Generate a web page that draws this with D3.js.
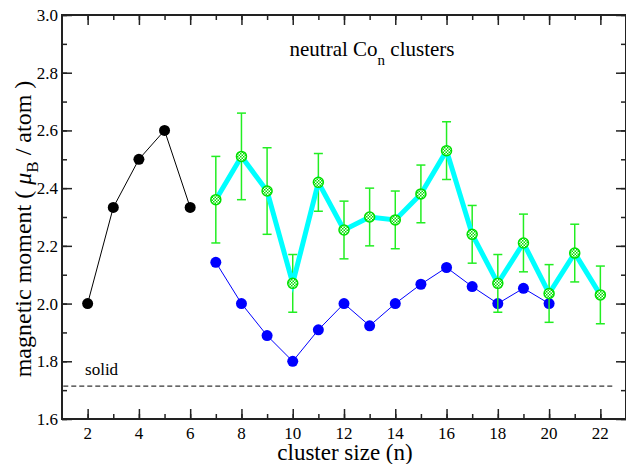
<!DOCTYPE html>
<html>
<head>
<meta charset="utf-8">
<script src="https://cdn.jsdelivr.net/npm/d3@7"></script>
<style>
  body { margin: 0; background: #fff; }
  text { font-family: "Liberation Serif", "DejaVu Serif", serif; }
</style>
</head>
<body>
<svg id="canvas" width="626" height="464"></svg>
<script>
/***********************************************************************/
// Data

var smallSizes = [2, 3, 4, 5, 6];
var smallMoments = [2.0, 2.333, 2.5, 2.6, 2.333];

var calcSizes = [7, 8, 9, 10, 11, 12, 13, 14, 15, 16, 17, 18, 19, 20];
var calcMoments = [2.143, 2.0, 1.889, 1.8, 1.909, 2.0, 1.923, 2.0, 2.067, 2.125, 2.059, 2.0, 2.053, 2.0];

var exptSizes = [7, 8, 9, 10, 11, 12, 13, 14, 15, 16, 17, 18, 19, 20, 21, 22];
var exptMoments = [2.36, 2.51, 2.39, 2.07, 2.42, 2.255, 2.30, 2.29, 2.38, 2.53, 2.24, 2.07, 2.21, 2.035, 2.175, 2.03];
var exptErrors = [0.15, 0.15, 0.15, 0.1, 0.1, 0.1, 0.1, 0.1, 0.1, 0.1, 0.1, 0.1, 0.1, 0.1, 0.1, 0.1];

var solidMoment = 1.714;

var xTicks = [2, 4, 6, 8, 10, 12, 14, 16, 18, 20, 22];
var yTicks = [1.6, 1.8, 2.0, 2.2, 2.4, 2.6, 2.8, 3.0];

/***********************************************************************/
// Scales

var svg = d3.select('#canvas');
var plotL = 62, plotR = 626, plotT = 15, plotB = 419;

var xScale = d3.scaleLinear().domain([1, 23]).range([plotL, plotR]);
var yScale = d3.scaleLinear().domain([1.6, 3.0]).range([plotB, plotT]);

// checkered fill for the experimental markers
var defs = svg.append('defs');
var pat = defs.append('pattern').attr('id', 'checker').attr('patternUnits', 'userSpaceOnUse')
  .attr('width', 3).attr('height', 3);
pat.append('rect').attr('width', 3).attr('height', 3).attr('fill', '#ffffff');
pat.append('rect').attr('width', 1.5).attr('height', 1.5).attr('fill', '#00e000');
pat.append('rect').attr('x', 1.5).attr('y', 1.5).attr('width', 1.5).attr('height', 1.5).attr('fill', '#00e000');

/***********************************************************************/
// Axes (ticks inside, on all four sides)

function tickRow(axisFn, scale, ticks, size, pos){
  svg.append('g').attr('transform', pos)
    .call(axisFn(scale).tickValues(ticks).tickSize(size).tickFormat(''))
    .call(g => g.select('.domain').remove());
}

var xMinor = d3.range(2, 23, 1);
var yMinor = d3.range(16, 31, 1).map(d => d / 10);

tickRow(d3.axisTop, xScale, xMinor, 5, 'translate(0,' + plotB + ')');
tickRow(d3.axisTop, xScale, xTicks, 10, 'translate(0,' + plotB + ')');
tickRow(d3.axisBottom, xScale, xMinor, 5, 'translate(0,' + plotT + ')');
tickRow(d3.axisBottom, xScale, xTicks, 10, 'translate(0,' + plotT + ')');
tickRow(d3.axisRight, yScale, yMinor, 5, 'translate(' + plotL + ',0)');
tickRow(d3.axisRight, yScale, yTicks, 10, 'translate(' + plotL + ',0)');
tickRow(d3.axisLeft, yScale, yMinor, 5, 'translate(' + plotR + ',0)');
tickRow(d3.axisLeft, yScale, yTicks, 10, 'translate(' + plotR + ',0)');

svg.selectAll('.tick line').attr('stroke', '#222').attr('stroke-width', 1.5);

svg.append('rect').attr('x', plotL).attr('y', plotT).attr('width', plotR - plotL).attr('height', plotB - plotT)
  .attr('fill', 'none').attr('stroke', '#222').attr('stroke-width', 2);

// tick labels
svg.append('g').selectAll('text').data(xTicks).join('text')
  .attr('x', d => xScale(d)).attr('y', plotB + 20).attr('text-anchor', 'middle')
  .attr('font-size', 17).text(d => d);
svg.append('g').selectAll('text').data(yTicks).join('text')
  .attr('x', plotL - 4).attr('y', d => yScale(d) + 6).attr('text-anchor', 'end')
  .attr('font-size', 17).text(d => d.toFixed(1));

// axis titles
svg.append('text').attr('x', 345).attr('y', 460).attr('text-anchor', 'middle')
  .attr('font-size', 23).text('cluster size (n)');

var yt = svg.append('text').attr('transform', 'translate(31,229) rotate(-90)')
  .attr('text-anchor', 'middle').attr('font-size', 24);
yt.append('tspan').text('magnetic moment ( ');
yt.append('tspan').attr('font-style', 'italic').text('μ');
yt.append('tspan').attr('font-size', 17).attr('dy', 7).text('B');
yt.append('tspan').attr('dy', -7).text(' / atom )');

// title
var tt = svg.append('text').attr('x', 372).attr('y', 56).attr('text-anchor', 'middle').attr('font-size', 21);
tt.append('tspan').text('neutral Co');
tt.append('tspan').attr('font-size', 15).attr('dy', 9).text('n');
tt.append('tspan').attr('dy', -9).text(' clusters');

/***********************************************************************/
// Solid reference

svg.append('line')
  .attr('x1', xScale(1.05)).attr('x2', xScale(22.5))
  .attr('y1', yScale(solidMoment)).attr('y2', yScale(solidMoment))
  .attr('stroke', '#000').attr('stroke-width', 1).attr('stroke-dasharray', '5,3');
svg.append('text').attr('x', xScale(1.9)).attr('y', yScale(solidMoment) - 11)
  .attr('font-size', 17).text('solid');

/***********************************************************************/
// Series

var line = d3.line().x(d => xScale(d[0])).y(d => yScale(d[1]));

var smallData = smallSizes.map((n, i) => [n, smallMoments[i]]);
var calcData = calcSizes.map((n, i) => [n, calcMoments[i]]);
var exptData = exptSizes.map((n, i) => [n, exptMoments[i], exptErrors[i]]);

svg.append('path').datum(smallData).attr('d', line).attr('fill', 'none').attr('stroke', '#000').attr('stroke-width', 1);
svg.append('g').selectAll('circle').data(smallData).join('circle')
  .attr('cx', d => xScale(d[0])).attr('cy', d => yScale(d[1])).attr('r', 5.5).attr('fill', '#000');

svg.append('path').datum(calcData).attr('d', line).attr('fill', 'none').attr('stroke', '#0000ff').attr('stroke-width', 1);
svg.append('g').selectAll('circle').data(calcData).join('circle')
  .attr('cx', d => xScale(d[0])).attr('cy', d => yScale(d[1])).attr('r', 5.5).attr('fill', '#0000ff');

// error bars
var eb = svg.append('g').attr('stroke', '#22ee22').attr('stroke-width', 1.5);
exptData.forEach(d => {
  var x = xScale(d[0]), y1 = yScale(d[1] + d[2]), y2 = yScale(d[1] - d[2]);
  eb.append('line').attr('x1', x).attr('x2', x).attr('y1', y1).attr('y2', y2);
  eb.append('line').attr('x1', x - 4.5).attr('x2', x + 4.5).attr('y1', y1).attr('y2', y1);
  eb.append('line').attr('x1', x - 4.5).attr('x2', x + 4.5).attr('y1', y2).attr('y2', y2);
});

svg.append('path').datum(exptData).attr('d', line).attr('fill', 'none').attr('stroke', '#00ffff').attr('stroke-width', 5);
svg.append('g').selectAll('circle').data(exptData).join('circle')
  .attr('cx', d => xScale(d[0])).attr('cy', d => yScale(d[1])).attr('r', 5)
  .attr('fill', 'url(#checker)').attr('stroke', '#00e000').attr('stroke-width', 1.5);
</script>
</body>
</html>
